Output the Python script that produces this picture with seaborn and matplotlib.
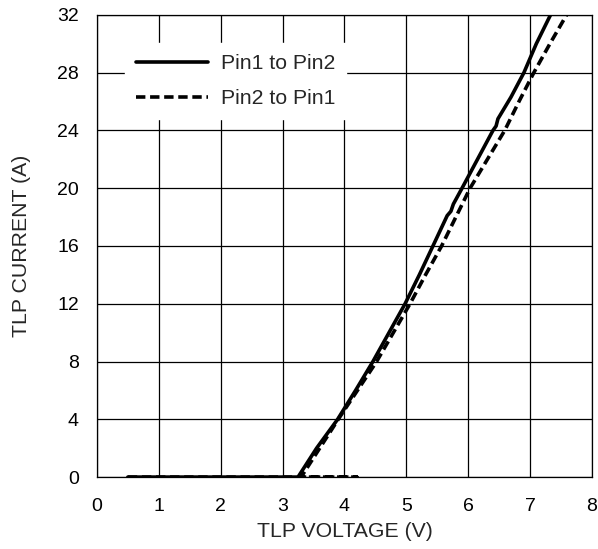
import numpy as np
import pandas as pd
import seaborn as sns
import matplotlib
matplotlib.use("Agg")
import matplotlib.pyplot as plt

# TLP curves (voltage V, current A)
pin12_v = [0.5, 3.25, 3.55, 3.89, 4.18, 4.46, 4.72, 4.98, 5.21, 5.43, 5.66, 5.72, 5.76, 5.90, 6.15, 6.40, 6.45, 6.48, 6.69, 6.90, 7.10, 7.33]
pin12_i = [0.0, 0.0, 2.0, 4.0, 6.0, 8.0, 10.0, 12.0, 14.0, 16.0, 18.1, 18.4, 18.9, 20.0, 22.0, 24.0, 24.3, 24.8, 26.3, 28.0, 30.0, 32.0]

pin21_v = [0.5, 3.30, 4.20, 3.30, 3.60, 3.90, 4.21, 4.52, 4.79, 5.06, 5.31, 5.57, 5.80, 6.03, 6.31, 6.59, 6.82, 7.06, 7.32, 7.59]
pin21_i = [0.0, 0.0, 0.0, 0.0, 2.0, 4.0, 6.0, 8.0, 10.0, 12.0, 14.0, 16.0, 18.0, 20.0, 22.0, 24.0, 26.0, 28.0, 30.0, 32.0]

x_ticks = [0, 1, 2, 3, 4, 5, 6, 7, 8]
y_ticks = [0, 4, 8, 12, 16, 20, 24, 28, 32]

df = pd.concat([
    pd.DataFrame({"v": pin12_v, "i": pin12_i, "dir": "Pin1 to Pin2"}),
    pd.DataFrame({"v": pin21_v, "i": pin21_i, "dir": "Pin2 to Pin1"}),
], ignore_index=True)

sns.set_style("white")
plt.rcParams['font.family'] = ['Liberation Sans', 'DejaVu Sans']

fig = plt.figure(figsize=(5.98, 5.49), dpi=100)
ax = fig.add_axes([0.162, 0.131, 0.828, 0.842])

for name, ls in [("Pin1 to Pin2", "-"), ("Pin2 to Pin1", (0, (2.6, 1.3)))]:
    sub = df[df["dir"] == name]
    sns.lineplot(data=sub, x="v", y="i", sort=False, estimator=None,
                 color="black", lw=2.6, linestyle=ls, label=name, ax=ax)

ax.set_xlim(0, 8)
ax.set_ylim(0, 32)
ax.set_xticks(x_ticks)
ax.set_yticks(y_ticks)
ax.grid(True, color="black", lw=0.9)
ax.set_axisbelow(True)
for s in ax.spines.values():
    s.set_color("black")
    s.set_linewidth(0.9)
ax.tick_params(axis="x", length=0, labelsize=14, pad=15, colors="black")
ax.tick_params(axis="y", length=0, labelsize=14, pad=13, colors="black")
ax.set_xlabel("TLP VOLTAGE (V)", fontsize=15.3, labelpad=5)
ax.set_ylabel("TLP CURRENT (A)", fontsize=15.3, labelpad=19)

leg = ax.legend(loc="upper left", bbox_to_anchor=(0.057, 0.938), borderaxespad=0,
                frameon=True, fontsize=15.3, handlelength=3.4, handletextpad=0.6,
                borderpad=0.5, labelspacing=0.75, fancybox=False)
leg.get_frame().set_edgecolor("white")
leg.get_frame().set_facecolor("white")
leg.get_frame().set_alpha(1)

fig.savefig("out.png", dpi=100)
